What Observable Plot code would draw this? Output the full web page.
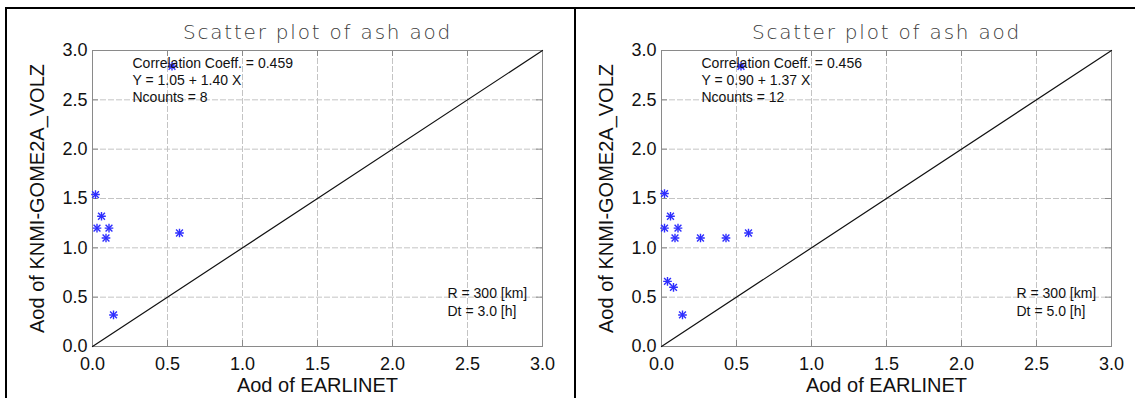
<!DOCTYPE html>
<html><head><meta charset="utf-8">
<script src="https://cdn.jsdelivr.net/npm/d3@7"></script>
<script src="https://cdn.jsdelivr.net/npm/@observablehq/plot@0.6"></script>
<style>
html,body{margin:0;padding:0;background:#fff;width:1135px;height:398px;overflow:hidden;position:relative;}
.panel{position:absolute;top:7px;width:567px;height:389px;border-left:2px solid #000;border-top:2px solid #000;}
.panel svg{display:block;}
</style></head><body>
<div class="panel" id="p1" style="left:5px"></div>
<div class="panel" id="p2" style="left:574px"></div>
<script>
// ---- data ----
const titleText = "Scatter plot of ash aod";
const xLabel = "Aod of EARLINET";
const yLabel = "Aod of KNMI-GOME2A_VOLZ";
const axisTicks = [0, 0.5, 1.0, 1.5, 2.0, 2.5, 3.0];
const diagX = [0, 3];
const diagY = [0, 3];

const leftX = [0.02, 0.06, 0.03, 0.11, 0.09, 0.58, 0.14, 0.53];
const leftY = [1.54, 1.32, 1.20, 1.20, 1.10, 1.15, 0.32, 2.84];
const leftStats = ["Correlation Coeff. = 0.459", "Y = 1.05 + 1.40 X", "Ncounts = 8"];
const leftParams = ["R = 300 [km]", "Dt = 3.0 [h]"];

const rightX = [0.02, 0.06, 0.02, 0.11, 0.09, 0.26, 0.43, 0.58, 0.04, 0.08, 0.14, 0.53];
const rightY = [1.55, 1.32, 1.20, 1.20, 1.10, 1.10, 1.10, 1.15, 0.66, 0.60, 0.32, 2.84];
const rightStats = ["Correlation Coeff. = 0.456", "Y = 0.90 + 1.37 X", "Ncounts = 12"];
const rightParams = ["R = 300 [km]", "Dt = 5.0 [h]"];

const blue = "#2e2eff";
const fmt = d3.format(".1f");

function panel(xs, ys, stats, params) {
  const pts = xs.map((x, i) => ({x, y: ys[i]}));
  const diag = diagX.map((x, i) => ({x, y: diagY[i]}));
  const svg = Plot.plot({
    width: 567, height: 389,
    marginLeft: 85, marginRight: 32, marginTop: 41, marginBottom: 52,
    style: {fontFamily: "'Liberation Sans', Arial, sans-serif", fontSize: "18px", background: "#fff", color: "#000", overflow: "visible"},
    x: {domain: [0, 3]},
    y: {domain: [0, 3]},
    marks: [
      Plot.gridX({ticks: axisTicks, stroke: "#c4c4c4", strokeOpacity: 1, strokeDasharray: "6,2"}),
      Plot.gridY({ticks: axisTicks, stroke: "#c4c4c4", strokeOpacity: 1, strokeDasharray: "6,2"}),
      Plot.frame({stroke: "#8a8a8a"}),
      Plot.ruleX(axisTicks, {x: d => d, insetTop: 290, stroke: "#8a8a8a"}),
      Plot.ruleX(axisTicks, {x: d => d, insetBottom: 290, stroke: "#8a8a8a"}),
      Plot.ruleY(axisTicks, {y: d => d, insetRight: 444, stroke: "#8a8a8a"}),
      Plot.ruleY(axisTicks, {y: d => d, insetLeft: 444, stroke: "#8a8a8a"}),
      Plot.axisX({ticks: axisTicks, tickSize: 0, tickPadding: 11, tickFormat: fmt, label: null, fontSize: 18, fill: "#111"}),
      Plot.axisY({ticks: axisTicks, tickSize: 0, tickPadding: 5, tickFormat: fmt, label: null, fontSize: 18, fill: "#111"}),
      Plot.line(diag, {x: "x", y: "y", stroke: "#111", strokeWidth: 1.2}),
      Plot.dot(pts, {x: "x", y: "y", symbol: "plus", r: 2.9, stroke: blue, strokeWidth: 1.4}),
      Plot.dot(pts, {x: "x", y: "y", symbol: "times", r: 3.2, stroke: blue, strokeWidth: 1.4}),
      Plot.text([stats.join("\n")], {text: d => d, frameAnchor: "top-left", dx: 40, dy: 6, lineAnchor: "top", textAnchor: "start", fontSize: 14, lineHeight: 1.2, fill: "#111"}),
      Plot.text([params.join("\n")], {text: d => d, frameAnchor: "bottom-right", dx: -95, dy: -45, lineAnchor: "middle", textAnchor: "start", fontSize: 14, lineHeight: 1.3, fill: "#111"}),
      Plot.text([titleText], {text: d => d, frameAnchor: "top", dy: -18, lineAnchor: "middle", fontSize: 20, fill: "#3a3a3a", fontWeight: 300}),
      Plot.text([xLabel], {text: d => d, frameAnchor: "bottom", dy: 39, lineAnchor: "middle", fontSize: 20, fill: "#111"}),
      Plot.text([yLabel], {text: d => d, frameAnchor: "left", dx: -55, rotate: -90, textAnchor: "middle", lineAnchor: "middle", fontSize: 20, fill: "#111"})
    ]
  });
  d3.select(svg).selectAll("text").filter(function() { return this.textContent === titleText; })
    .style("letter-spacing", "1.8px").style("font-family", "'DejaVu Sans', sans-serif").style("font-weight", "200");
  return svg;
}

document.getElementById("p1").append(panel(leftX, leftY, leftStats, leftParams));
document.getElementById("p2").append(panel(rightX, rightY, rightStats, rightParams));
</script>
</body></html>
